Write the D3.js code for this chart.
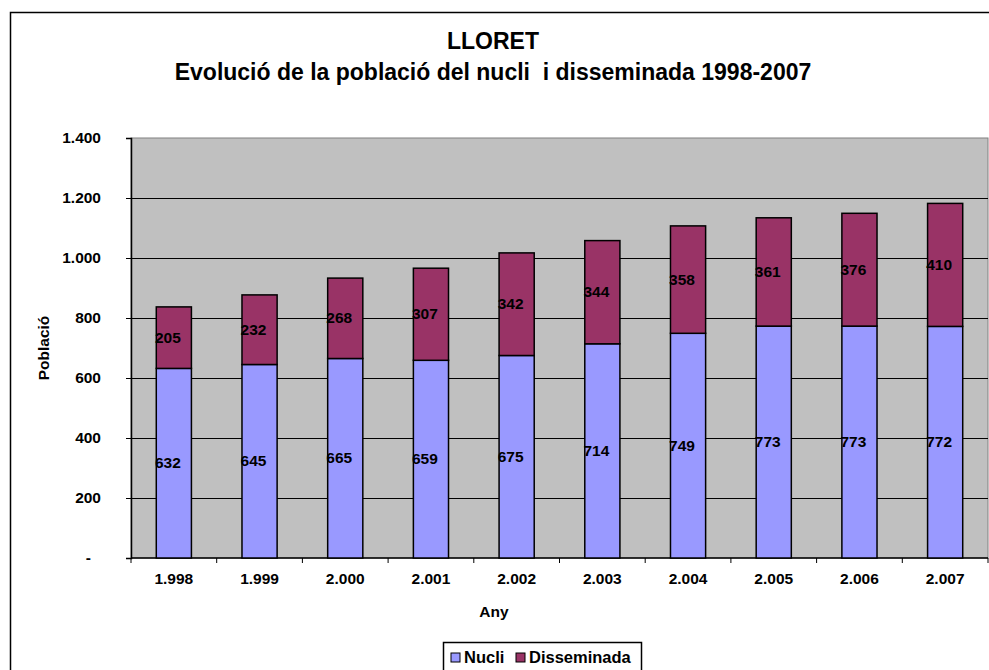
<!DOCTYPE html>
<html>
<head>
<meta charset="utf-8">
<script src="https://cdn.jsdelivr.net/npm/d3@7"></script>
<style>
  body { margin: 0; background: #fff; }
  text { font-family: Arial, "Liberation Sans", sans-serif; font-weight: bold; white-space: pre; }
</style>
</head>
<body>
<svg id="chart"></svg>
<script>
// data
var years = ["1.998", "1.999", "2.000", "2.001", "2.002", "2.003", "2.004", "2.005", "2.006", "2.007"]
var nucli = [632, 645, 665, 659, 675, 714, 749, 773, 773, 772]
var disseminada = [205, 232, 268, 307, 342, 344, 358, 361, 376, 410]
var yTicks = [0, 200, 400, 600, 800, 1000, 1200, 1400]
var seriesNames = ["Nucli", "Disseminada"]

var screen = {width: 989, height: 670}
var plot = {left: 131, top: 138, right: 988, bottom: 558}
var colors = {Nucli: "#9999FF", Disseminada: "#993366"}

var svg = d3.select("#chart")
    .attr("width", screen.width)
    .attr("height", screen.height)

// outer chart border (runs off the right and bottom edges)
svg.append("rect")
    .attr("x", 10.5).attr("y", 12.5)
    .attr("width", 1000).attr("height", 700)
    .attr("fill", "white").attr("stroke", "#000").attr("stroke-width", 1.5)

// titles
svg.append("text").attr("x", 493).attr("y", 49).attr("text-anchor", "middle")
    .style("font-size", "23px").text("LLORET")
svg.append("text").attr("x", 493).attr("y", 80).attr("text-anchor", "middle")
    .style("font-size", "23px").text("Evolució de la població del nucli  i disseminada 1998-2007")

var xScale = d3.scaleBand()
    .domain(years)
    .range([plot.left, plot.right])
    .paddingInner(0.59)
    .paddingOuter(0.295)

var yScale = d3.scaleLinear()
    .domain([0, 1400])
    .range([plot.bottom, plot.top])

// plot background
svg.append("rect")
    .attr("x", plot.left).attr("y", plot.top)
    .attr("width", plot.right - plot.left).attr("height", plot.bottom - plot.top)
    .attr("fill", "#C0C0C0").attr("stroke", "#808080")

// gridlines
svg.append("g").selectAll("line")
    .data(yTicks.slice(1, -1))
    .enter().append("line")
    .attr("x1", plot.left).attr("x2", plot.right)
    .attr("y1", function(d){ return Math.round(yScale(d)) + 0.5 })
    .attr("y2", function(d){ return Math.round(yScale(d)) + 0.5 })
    .attr("stroke", "#000").attr("stroke-width", 1)

// y axis
var yAxis = d3.axisLeft(yScale)
    .tickValues(yTicks)
    .tickSize(5)
    .tickPadding(25)
    .tickFormat(function(d){ return d === 0 ? "-" : d3.format(",")(d).replace(/,/g, ".") })
var gy = svg.append("g").attr("transform", "translate(" + plot.left + ",0)").call(yAxis)
gy.select(".domain").attr("stroke", "#000").attr("stroke-width", 1.5)
gy.selectAll(".tick line").attr("stroke", "#000")
gy.selectAll(".tick text").style("font-size", "15.5px").attr("fill", "#000")
gy.selectAll(".tick").filter(function(d){ return d === 0 }).select("text").attr("dx", -10)

// x axis: ticks at category boundaries
var boundaries = d3.range(years.length + 1).map(function(i){
    return plot.left + i * (plot.right - plot.left) / years.length
})
svg.append("line")
    .attr("x1", plot.left).attr("x2", plot.right)
    .attr("y1", plot.bottom).attr("y2", plot.bottom)
    .attr("stroke", "#000").attr("stroke-width", 1.5)
svg.append("g").selectAll("line")
    .data(boundaries)
    .enter().append("line")
    .attr("x1", function(d){ return d }).attr("x2", function(d){ return d })
    .attr("y1", plot.bottom).attr("y2", plot.bottom + 5)
    .attr("stroke", "#000")
svg.append("g").selectAll("text")
    .data(years)
    .enter().append("text")
    .attr("x", function(d){ return xScale(d) + xScale.bandwidth() / 2 })
    .attr("y", 584)
    .attr("text-anchor", "middle")
    .style("font-size", "15.5px")
    .text(function(d){ return d })

// axis titles
svg.append("text").attr("x", 494).attr("y", 617).attr("text-anchor", "middle")
    .style("font-size", "15.5px").text("Any")
svg.append("text")
    .attr("transform", "translate(49,348) rotate(-90)")
    .attr("text-anchor", "middle")
    .style("font-size", "15.5px").text("Població")

// stacked bars
var rows = years.map(function(y, i){ return {year: y, Nucli: nucli[i], Disseminada: disseminada[i]} })
var stack = d3.stack().keys(seriesNames)(rows)

var layers = svg.append("g").selectAll("g")
    .data(stack)
    .enter().append("g")
    .attr("fill", function(s){ return colors[s.key] })

layers.selectAll("rect")
    .data(function(s){ return s })
    .enter().append("rect")
    .attr("x", function(d){ return xScale(d.data.year) })
    .attr("y", function(d){ return yScale(d[1]) })
    .attr("width", xScale.bandwidth())
    .attr("height", function(d){ return yScale(d[0]) - yScale(d[1]) })
    .attr("stroke", "#000").attr("stroke-width", 1.5)

// value labels
layers.selectAll("text")
    .data(function(s){ return s })
    .enter().append("text")
    .attr("x", function(d){ return xScale(d.data.year) + xScale.bandwidth() / 2 - 6 })
    .attr("y", function(d){ return (yScale(d[0]) + yScale(d[1])) / 2 + 5 })
    .attr("text-anchor", "middle")
    .attr("fill", "#000")
    .style("font-size", "15.5px")
    .text(function(d){ return d[1] - d[0] })

// legend
var legend = svg.append("g").attr("transform", "translate(443,642)")
legend.append("rect")
    .attr("x", 0.5).attr("y", 0.5).attr("width", 198).attr("height", 40)
    .attr("fill", "white").attr("stroke", "#000").attr("stroke-width", 1.5)
var items = legend.selectAll("g.item")
    .data(seriesNames)
    .enter().append("g")
    .attr("class", "item")
    .attr("transform", function(d, i){ return "translate(" + (i === 0 ? 8 : 73) + ",0)" })
items.append("rect")
    .attr("x", 0).attr("y", 11).attr("width", 9).attr("height", 9)
    .attr("fill", function(d){ return colors[d] })
    .attr("stroke", "#000")
items.append("text")
    .attr("x", 13).attr("y", 21)
    .style("font-size", "16.5px")
    .text(function(d){ return d })
</script>
</body>
</html>
